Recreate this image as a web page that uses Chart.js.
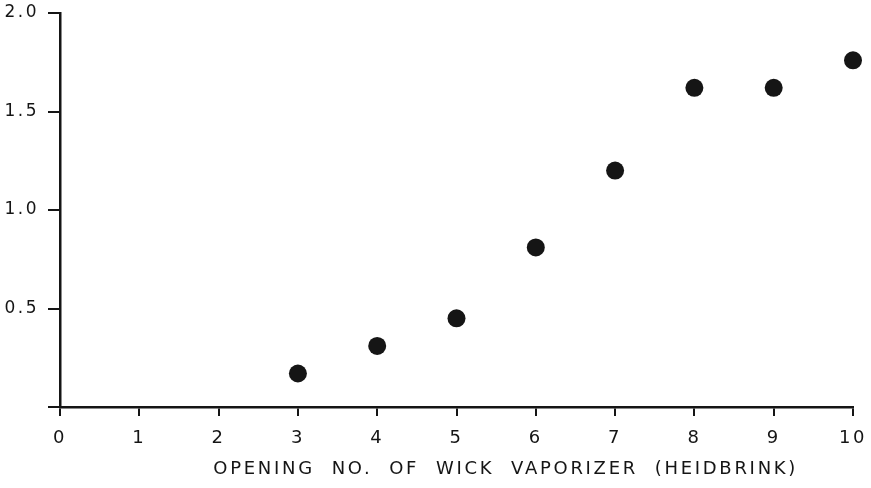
<!DOCTYPE html>
<html><head><meta charset="utf-8">
<script src="https://cdn.jsdelivr.net/npm/chart.js@4.4.0/dist/chart.umd.min.js"></script>
<style>html,body{margin:0;padding:0;background:#fff;}#wrap{width:871px;height:488px;}</style>
</head><body><div id="wrap"><canvas id="c" width="871" height="488"></canvas></div>
<script>
const openingNo = [3, 4, 5, 6, 7, 8, 9, 10];
const values = [0.17, 0.31, 0.45, 0.81, 1.20, 1.62, 1.62, 1.76];
const xTickLabels = ['0','1','2','3','4','5','6','7','8','9','10'];
const yTickValues = [0.5, 1.0, 1.5, 2.0];
const xTitle = 'OPENING  NO.  OF  WICK  VAPORIZER  (HEIDBRINK)';

const ink = '#151515';
const spacing = {
  id: 'spacing',
  beforeDraw(chart) { chart.ctx.letterSpacing = '2.5px'; },
  afterDraw(chart) {
    const ctx = chart.ctx, a = chart.chartArea;
    ctx.save();
    ctx.letterSpacing = '2.7px';
    ctx.font = '18px "DejaVu Sans"';
    ctx.fillStyle = ink;
    ctx.textAlign = 'center';
    ctx.textBaseline = 'middle';
    ctx.fillText(xTitle, a.left + (a.right - a.left) * 0.562, chart.height - 19);
    ctx.restore();
    ctx.letterSpacing = '0px';
  }
};

new Chart(document.getElementById('c'), {
  type: 'scatter',
  data: {
    datasets: [{
      data: openingNo.map((x, i) => ({x, y: values[i]})),
      backgroundColor: ink,
      borderWidth: 0,
      pointRadius: 9,
      pointHoverRadius: 9,
      clip: false
    }]
  },
  options: {
    responsive: false,
    animation: false,
    devicePixelRatio: 1,
    layout: { padding: { top: 13, right: 18, left: 0, bottom: 0 } },
    plugins: { legend: { display: false }, tooltip: { enabled: false } },
    scales: {
      x: {
        type: 'linear', min: 0, max: 10,
        afterFit(s) { s.height = 81; s.paddingRight = 0; s.paddingLeft = 0; },
        ticks: {
          stepSize: 1, color: ink, padding: 12, maxRotation: 0,
          font: { family: 'DejaVu Sans', size: 18 },
          callback: (v) => xTickLabels[v]
        },
        grid: { drawOnChartArea: false, drawTicks: true, tickLength: 9, color: ink, lineWidth: 2 },
        border: { display: true, color: ink, width: 2.5 }
      },
      y: {
        type: 'linear', min: 0, max: 2.0,
        afterFit(s) { s.width = 60; s.paddingTop = 0; s.paddingBottom = 0; },
        afterBuildTicks(s) { s.ticks = [{value: 0}].concat(yTickValues.map(v => ({value: v}))); },
        ticks: {
          color: ink, padding: 9,
          font: { family: 'DejaVu Sans', size: 17 },
          callback: (v) => v === 0 ? '' : v.toFixed(1)
        },
        grid: { drawOnChartArea: false, drawTicks: true, tickLength: 12, color: ink, lineWidth: 2 },
        border: { display: true, color: ink, width: 2.5 }
      }
    }
  },
  plugins: [spacing]
});
</script></body></html>
